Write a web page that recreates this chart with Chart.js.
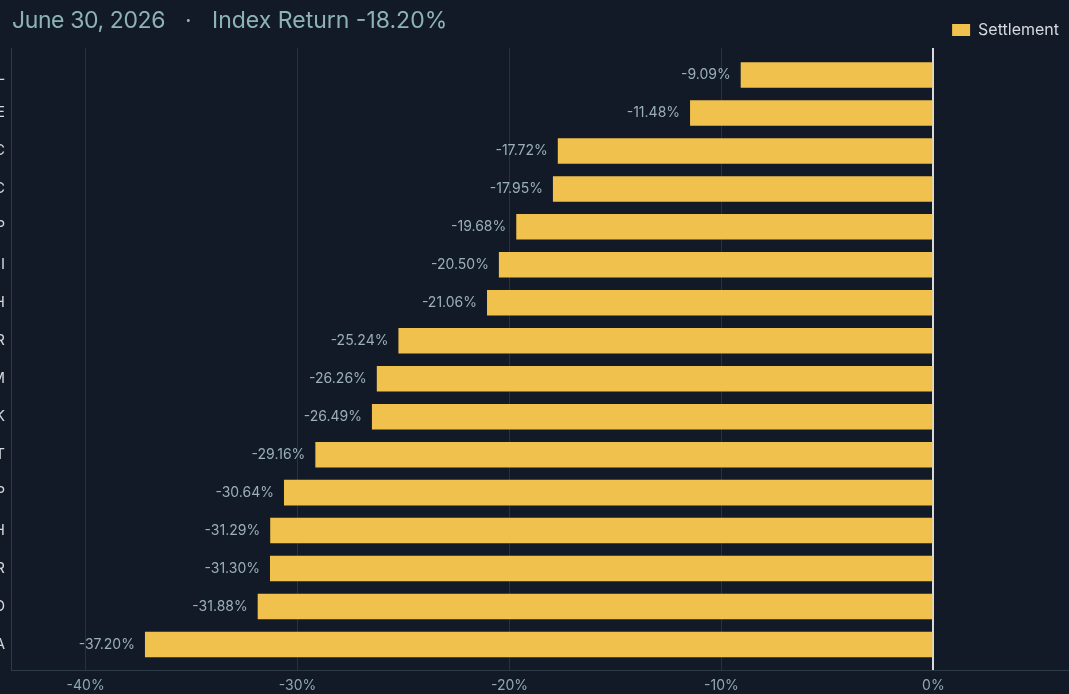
<!DOCTYPE html>
<html><head><meta charset="utf-8">
<script src="https://cdn.jsdelivr.net/npm/chart.js@4.4.1/dist/chart.umd.min.js"></script>
<style>
html,body{margin:0;padding:0;background:#131a27;overflow:hidden;width:1069px;height:694px;}
#wrap{position:absolute;left:-40px;top:0;width:1109px;height:694px;}
.t{position:absolute;top:9px;font-family:Inter,sans-serif;font-size:23px;line-height:23px;color:#8db3b6;white-space:pre;}
</style></head><body>
<div id="wrap"><canvas id="c" width="1109" height="694"></canvas></div>
<span class="t" id="t1" style="left:12px;letter-spacing:-0.4px"></span>
<span class="t" id="t2" style="left:185px">·</span>
<span class="t" id="t3" style="left:212px"></span>
<script>
const categories = ['L','E','C','C','P','I','H','R','M','K','T','P','H','R','D','A'];
const settlement = [-9.09,-11.48,-17.72,-17.95,-19.68,-20.50,-21.06,-25.24,-26.26,-26.49,-29.16,-30.64,-31.29,-31.30,-31.88,-37.20];
const xTicks = [-40,-30,-20,-10,0];
const seriesName = 'Settlement';
const titleDate = 'June 30, 2026';
const titleIndex = 'Index Return -18.20%';

document.getElementById('t1').textContent = titleDate;
document.getElementById('t3').textContent = titleIndex;

const valueLabels = {
  id: 'valueLabels',
  afterDatasetsDraw(chart) {
    const ctx = chart.ctx;
    const meta = chart.getDatasetMeta(0);
    ctx.save();
    ctx.font = '14px Inter';
    ctx.fillStyle = '#9ab0b6';
    ctx.textAlign = 'right';
    ctx.textBaseline = 'middle';
    meta.data.forEach((bar, i) => {
      ctx.fillText(settlement[i].toFixed(2) + '%', bar.x - 10, bar.y);
    });
    ctx.restore();
  }
};

new Chart(document.getElementById('c'), {
  type: 'bar',
  data: {
    labels: categories,
    datasets: [{
      label: seriesName,
      data: settlement,
      backgroundColor: '#f0c14d',
      borderWidth: 0,
      categoryPercentage: 0.84,
      barPercentage: 0.8
    }]
  },
  options: {
    indexAxis: 'y',
    responsive: false,
    animation: false,
    devicePixelRatio: 1,
    layout: { padding: { top: 12, right: 0, left: 0, bottom: 0 } },
    plugins: {
      tooltip: { enabled: false },
      legend: {
        position: 'top',
        align: 'end',
        labels: {
          boxWidth: 18,
          boxHeight: 12,
          color: '#d5dadf',
          font: { family: 'Inter', size: 16 },
          padding: 10
        }
      }
    },
    scales: {
      x: {
        type: 'linear',
        min: -43.52,
        max: 6.4,
        afterBuildTicks(s) { s.ticks = xTicks.map(v => ({ value: v })); },
        afterFit(s) { s.height = 24; },
        ticks: {
          callback: v => v + '%',
          color: '#8fa9b0',
          font: { family: 'Inter', size: 14 },
          padding: 7,
          maxRotation: 0,
          autoSkip: false
        },
        grid: {
          drawTicks: false,
          color: c => (c.tick && c.tick.value === 0) ? '#d9d9d9' : '#263240',
          lineWidth: c => (c.tick && c.tick.value === 0) ? 2 : 1
        },
        border: { color: '#2d3b48', width: 1 }
      },
      y: {
        type: 'category',
        afterBuildTicks(s) { s._startValue = -0.711; s._valueRange = 16.383; },
        afterFit(s) { s.width = 51; },
        grid: { display: false, drawTicks: false },
        border: { display: true, color: '#2d3b48', width: 1 },
        ticks: {
          color: '#d3d8dc',
          font: { family: 'Inter', size: 15 },
          padding: 6,
          autoSkip: false
        }
      }
    }
  },
  plugins: [valueLabels]
});
</script>
</body></html>
